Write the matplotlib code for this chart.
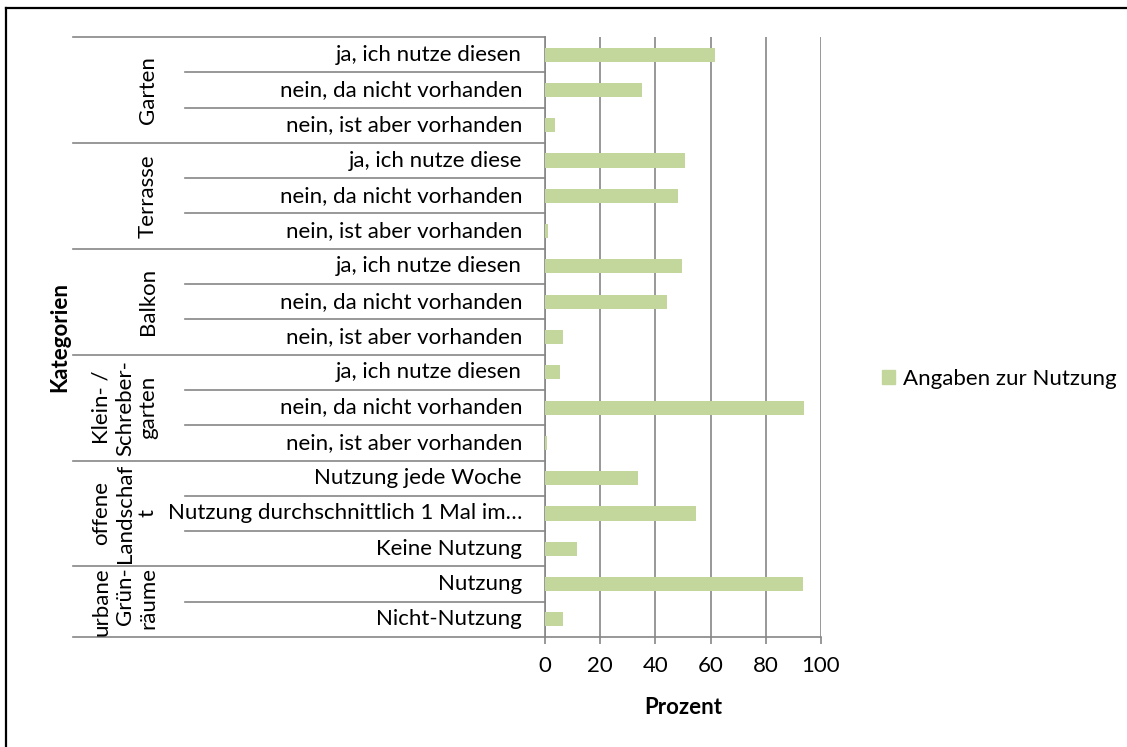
import matplotlib
matplotlib.use("Agg")
import matplotlib.pyplot as plt
from matplotlib.transforms import blended_transform_factory
from matplotlib.patches import Patch

plt.rcParams['font.family'] = ['Lato', 'DejaVu Sans']

# Gruppen (von oben nach unten) und ihre Antwortkategorien
groups = ["Garten", "Terrasse", "Balkon", "Klein- /\nSchreber-\ngarten",
          "offene\nLandschaf\nt", "urbane\nGrün-\nräume"]
answers = [
    ["ja, ich nutze diesen", "nein, da nicht vorhanden", "nein, ist aber vorhanden"],
    ["ja, ich nutze diese", "nein, da nicht vorhanden", "nein, ist aber vorhanden"],
    ["ja, ich nutze diesen", "nein, da nicht vorhanden", "nein, ist aber vorhanden"],
    ["ja, ich nutze diesen", "nein, da nicht vorhanden", "nein, ist aber vorhanden"],
    ["Nutzung jede Woche", "Nutzung durchschnittlich 1 Mal im\u2026", "Keine Nutzung"],
    ["Nutzung", "Nicht-Nutzung"],
]
# Prozentwerte je Antwort
values = [
    [61.5, 35.0, 3.6],
    [50.9, 48.1, 1.0],
    [49.5, 44.1, 6.5],
    [5.4, 93.8, 0.8],
    [33.7, 54.6, 11.7],
    [93.6, 6.5],
]
xticks = [0, 20, 40, 60, 80, 100]

W, H = 1127, 747
bar_color = "#C3D69B"
line_color = "#868686"
fs = 16

labels = [a for grp in answers for a in grp]
vals = [v for grp in values for v in grp]
n = len(labels)

fig = plt.figure(figsize=(W / 100, H / 100), dpi=100)
ax = fig.add_axes([545 / W, 110 / H, 276 / W, 600 / H])

ax.barh(range(n), vals, height=0.4, color=bar_color, zorder=3)
ax.set_ylim(n - 0.5, -0.5)
ax.set_xlim(0, 100)
ax.set_xticks(xticks)
ax.set_yticks([])
ax.tick_params(axis='x', direction='out', length=5, width=1.2, color=line_color,
               labelsize=fs, pad=9)
ax.grid(axis='x', color=line_color, linewidth=1.2, zorder=1)
for side in ['top', 'right']:
    ax.spines[side].set_visible(False)
for side in ['left', 'bottom']:
    ax.spines[side].set_color(line_color)
    ax.spines[side].set_linewidth(1.2)
ax.set_xlabel("Prozent", fontsize=fs, fontweight='bold', labelpad=15)

# mehrstufige Kategorienachse
tr = blended_transform_factory(fig.transFigure, ax.transData)
x_axis = 545 / W
x_inner = 185 / W
x_outer = 73 / W

pos = 0
ax.plot([x_outer, x_axis], [-0.5, -0.5], transform=tr, color=line_color,
        lw=1.2, clip_on=False)
for gi, (grp, ans) in enumerate(zip(groups, answers)):
    start = pos
    for a in ans:
        ax.text(522 / W, pos, a, transform=tr, ha='right', va='center', fontsize=fs)
        if pos < start + len(ans) - 1:
            ax.plot([x_inner, x_axis], [pos + 0.5, pos + 0.5], transform=tr,
                    color=line_color, lw=1.2, clip_on=False)
        pos += 1
    end = pos - 0.5
    ax.plot([x_outer, x_axis], [end, end], transform=tr, color=line_color,
            lw=1.2, clip_on=False)
    if gi == len(groups) - 1:
        ax.text(158 / W, start - 0.48, grp, transform=tr, rotation=90, ha='right',
                va='top', multialignment='right', fontsize=fs, linespacing=1.2)
    else:
        ax.text(158 / W, (start + end - 0.5) / 2, grp, transform=tr,
                rotation=90, ha='right', va='center', multialignment='center',
                fontsize=fs, linespacing=1.2)

fig.text(60 / W, 1 - 337 / H, "Kategorien", rotation=90, ha='center', va='center',
         fontsize=fs, fontweight='bold')

# Legende
fig.legend(handles=[Patch(color=bar_color, label="Angaben zur Nutzung")],
           loc='center left', bbox_to_anchor=(862 / W, 1 - 379 / H), frameon=False,
           fontsize=fs, handlelength=0.6, handleheight=0.6, handletextpad=0.35)

# Rahmenlinien oben und links
fig.add_artist(plt.Line2D([6 / W, 1], [1 - 8 / H, 1 - 8 / H], color='black', lw=1.6))
fig.add_artist(plt.Line2D([6 / W, 6 / W], [0, 1 - 8 / H], color='black', lw=1.6))

fig.savefig("out.png", dpi=100, facecolor='white')
